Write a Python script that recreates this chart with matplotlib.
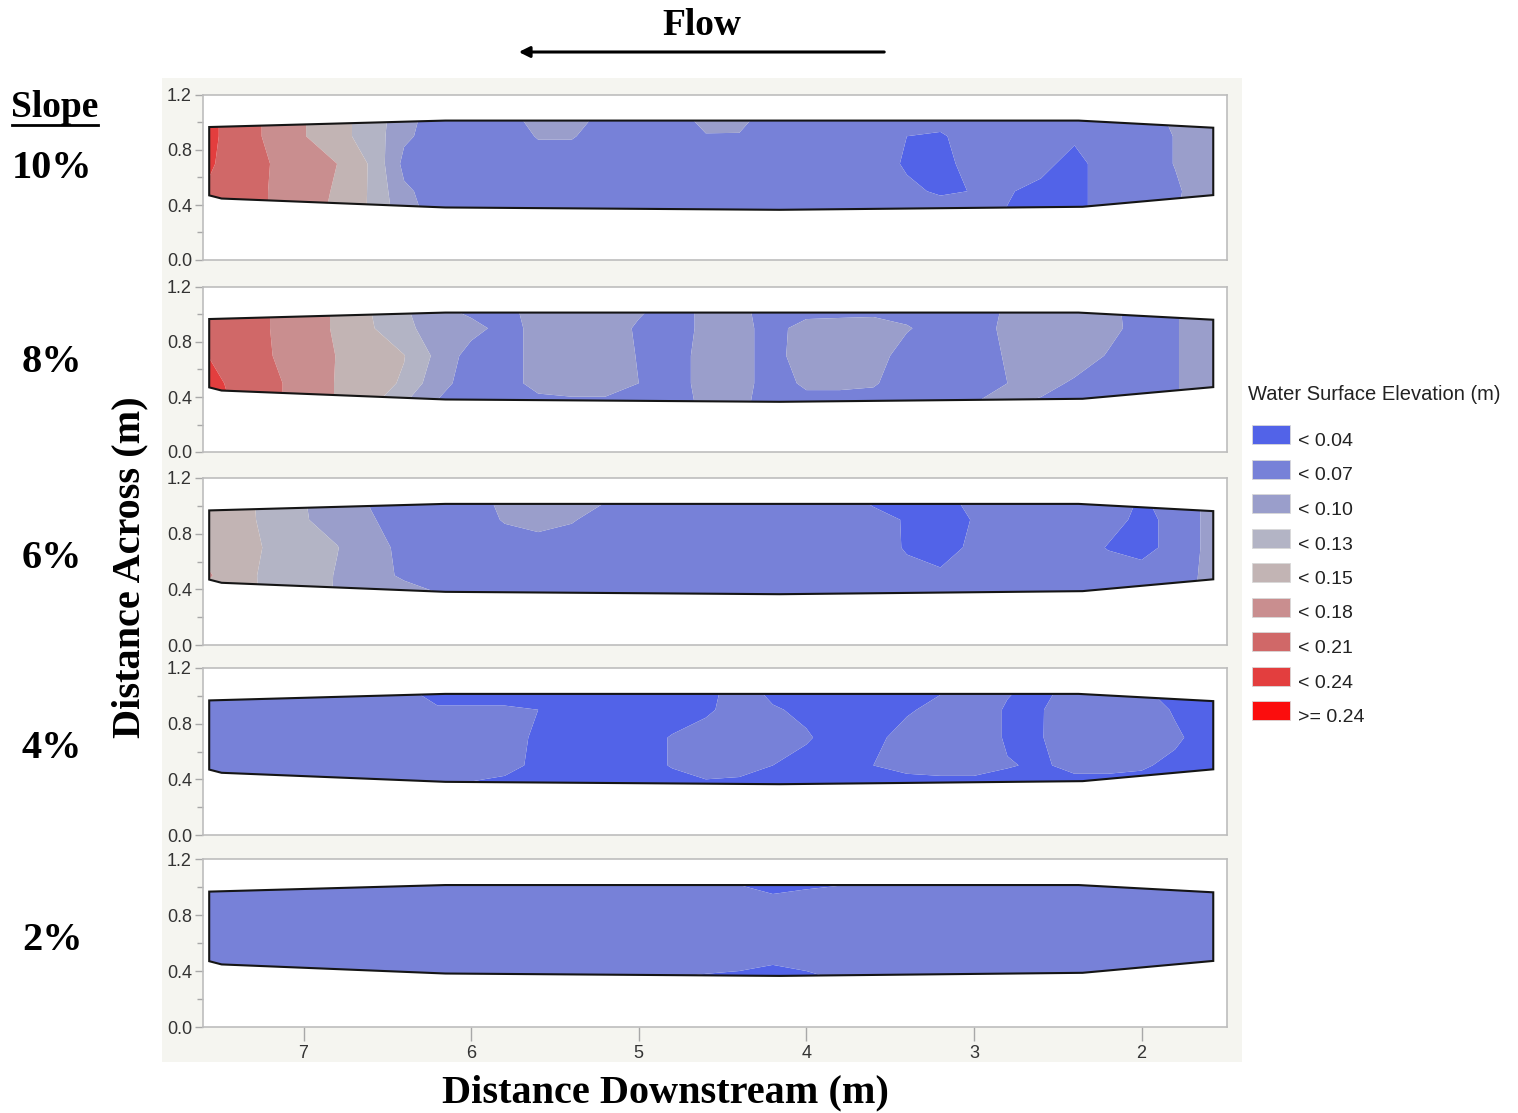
import numpy as np
import matplotlib.pyplot as plt
from matplotlib.patches import Polygon, Rectangle, FancyArrowPatch
from matplotlib.lines import Line2D

# ── Canvas (pixel helpers) ─────────────────────────────────────
W, H = 1518, 1113

def fx(px):
    return px / W

def fy(py):
    return 1 - py / H

# ── Data: water surface elevation (m) on a station grid ───────
x_stations = [7.6, 7.4, 7.2, 7.0, 6.8, 6.6, 6.4, 6.2, 6.0, 5.8, 5.6, 5.4, 5.2, 5.0, 4.8, 4.6,
              4.4, 4.2, 4.0, 3.8, 3.6, 3.4, 3.2, 3.0, 2.8, 2.6, 2.4, 2.2, 2.0, 1.8, 1.6, 1.4]
y_stations = [0.35, 0.5, 0.7, 0.9, 1.05]

wse_10 = [
    [0.205, 0.195, 0.179, 0.160, 0.145, 0.128, 0.082, 0.058, 0.055, 0.055, 0.055, 0.055, 0.055, 0.055, 0.055, 0.055,
     0.055, 0.055, 0.055, 0.055, 0.055, 0.058, 0.055, 0.052, 0.039, 0.030, 0.030, 0.055, 0.056, 0.068, 0.085, 0.090],
    [0.210, 0.196, 0.179, 0.162, 0.147, 0.128, 0.075, 0.058, 0.055, 0.055, 0.055, 0.055, 0.055, 0.055, 0.055, 0.055,
     0.055, 0.055, 0.055, 0.055, 0.055, 0.046, 0.036, 0.041, 0.042, 0.033, 0.030, 0.055, 0.056, 0.066, 0.085, 0.090],
    [0.218, 0.196, 0.180, 0.165, 0.150, 0.128, 0.062, 0.056, 0.055, 0.055, 0.056, 0.056, 0.055, 0.055, 0.055, 0.055,
     0.055, 0.055, 0.055, 0.055, 0.055, 0.036, 0.025, 0.058, 0.055, 0.048, 0.030, 0.055, 0.056, 0.071, 0.085, 0.090],
    [0.226, 0.192, 0.176, 0.151, 0.138, 0.120, 0.075, 0.058, 0.055, 0.055, 0.072, 0.072, 0.058, 0.055, 0.056, 0.068,
     0.068, 0.056, 0.055, 0.055, 0.055, 0.040, 0.036, 0.055, 0.055, 0.050, 0.045, 0.055, 0.056, 0.071, 0.085, 0.090],
    [0.226, 0.192, 0.176, 0.151, 0.138, 0.120, 0.080, 0.058, 0.055, 0.058, 0.085, 0.085, 0.062, 0.055, 0.058, 0.082,
     0.080, 0.058, 0.055, 0.055, 0.055, 0.055, 0.055, 0.055, 0.055, 0.055, 0.055, 0.055, 0.060, 0.075, 0.085, 0.090],
]

wse_8 = [
    [0.232, 0.205, 0.186, 0.170, 0.148, 0.136, 0.101, 0.068, 0.060, 0.060, 0.062, 0.062, 0.062, 0.062, 0.060, 0.075,
     0.075, 0.060, 0.062, 0.062, 0.062, 0.062, 0.066, 0.070, 0.072, 0.065, 0.060, 0.058, 0.060, 0.068, 0.085, 0.090],
    [0.222, 0.203, 0.186, 0.170, 0.148, 0.140, 0.127, 0.078, 0.060, 0.060, 0.078, 0.085, 0.085, 0.070, 0.060, 0.078,
     0.078, 0.060, 0.074, 0.074, 0.072, 0.060, 0.060, 0.062, 0.070, 0.080, 0.066, 0.060, 0.060, 0.068, 0.085, 0.090],
    [0.212, 0.198, 0.181, 0.168, 0.149, 0.141, 0.131, 0.092, 0.058, 0.060, 0.078, 0.090, 0.088, 0.068, 0.060, 0.078,
     0.078, 0.060, 0.085, 0.088, 0.080, 0.060, 0.058, 0.060, 0.072, 0.088, 0.085, 0.068, 0.060, 0.068, 0.085, 0.090],
    [0.205, 0.195, 0.180, 0.165, 0.146, 0.133, 0.108, 0.085, 0.080, 0.060, 0.078, 0.088, 0.085, 0.066, 0.060, 0.075,
     0.078, 0.060, 0.082, 0.085, 0.088, 0.072, 0.060, 0.060, 0.075, 0.088, 0.088, 0.078, 0.060, 0.068, 0.085, 0.090],
    [0.205, 0.195, 0.180, 0.165, 0.146, 0.130, 0.104, 0.075, 0.060, 0.060, 0.085, 0.088, 0.085, 0.075, 0.060, 0.075,
     0.075, 0.060, 0.055, 0.055, 0.055, 0.060, 0.060, 0.062, 0.072, 0.090, 0.085, 0.075, 0.062, 0.068, 0.085, 0.090],
]

wse_6 = [
    [0.145, 0.137, 0.126, 0.112, 0.098, 0.090, 0.082, 0.072, 0.062, 0.058, 0.058, 0.058, 0.058, 0.058, 0.058, 0.058,
     0.058, 0.058, 0.058, 0.058, 0.058, 0.058, 0.058, 0.058, 0.058, 0.058, 0.038, 0.058, 0.058, 0.058, 0.077, 0.085],
    [0.155, 0.138, 0.125, 0.115, 0.098, 0.080, 0.066, 0.060, 0.058, 0.058, 0.058, 0.058, 0.058, 0.058, 0.058, 0.058,
     0.058, 0.058, 0.058, 0.058, 0.056, 0.046, 0.044, 0.055, 0.058, 0.058, 0.055, 0.058, 0.050, 0.055, 0.077, 0.085],
    [0.145, 0.140, 0.127, 0.115, 0.101, 0.082, 0.062, 0.058, 0.058, 0.058, 0.060, 0.058, 0.058, 0.058, 0.058, 0.058,
     0.058, 0.058, 0.058, 0.058, 0.050, 0.038, 0.030, 0.045, 0.056, 0.058, 0.058, 0.038, 0.032, 0.048, 0.077, 0.085],
    [0.147, 0.137, 0.125, 0.102, 0.090, 0.072, 0.060, 0.058, 0.058, 0.072, 0.078, 0.072, 0.060, 0.058, 0.058, 0.058,
     0.058, 0.058, 0.058, 0.055, 0.048, 0.038, 0.032, 0.041, 0.050, 0.058, 0.058, 0.052, 0.032, 0.048, 0.077, 0.085],
    [0.148, 0.136, 0.125, 0.101, 0.088, 0.068, 0.060, 0.058, 0.058, 0.078, 0.080, 0.078, 0.072, 0.071, 0.065, 0.058,
     0.074, 0.058, 0.055, 0.048, 0.035, 0.032, 0.035, 0.045, 0.055, 0.058, 0.058, 0.052, 0.038, 0.048, 0.077, 0.085],
]

wse_4 = [
    [0.052, 0.052, 0.052, 0.052, 0.052, 0.052, 0.052, 0.045, 0.037, 0.033, 0.030, 0.030, 0.030, 0.032, 0.034, 0.036,
     0.036, 0.034, 0.032, 0.032, 0.033, 0.034, 0.034, 0.034, 0.034, 0.034, 0.034, 0.034, 0.034, 0.032, 0.030, 0.030],
    [0.052, 0.052, 0.052, 0.052, 0.052, 0.052, 0.052, 0.052, 0.050, 0.047, 0.035, 0.030, 0.030, 0.034, 0.041, 0.048,
     0.045, 0.040, 0.034, 0.034, 0.040, 0.044, 0.046, 0.046, 0.041, 0.038, 0.044, 0.044, 0.042, 0.036, 0.032, 0.030],
    [0.052, 0.052, 0.052, 0.052, 0.052, 0.052, 0.052, 0.052, 0.052, 0.052, 0.035, 0.030, 0.030, 0.034, 0.041, 0.050,
     0.052, 0.050, 0.042, 0.032, 0.036, 0.046, 0.050, 0.050, 0.038, 0.039, 0.052, 0.052, 0.050, 0.043, 0.032, 0.030],
    [0.052, 0.052, 0.052, 0.052, 0.052, 0.052, 0.048, 0.042, 0.042, 0.042, 0.040, 0.032, 0.030, 0.030, 0.033, 0.036,
     0.050, 0.042, 0.036, 0.032, 0.032, 0.038, 0.045, 0.050, 0.038, 0.039, 0.050, 0.052, 0.050, 0.038, 0.032, 0.030],
    [0.052, 0.052, 0.052, 0.052, 0.052, 0.052, 0.042, 0.032, 0.032, 0.032, 0.032, 0.032, 0.030, 0.030, 0.032, 0.034,
     0.048, 0.034, 0.032, 0.032, 0.032, 0.034, 0.038, 0.046, 0.042, 0.035, 0.046, 0.046, 0.042, 0.032, 0.030, 0.030],
]

wse_2 = [
    [0.056, 0.056, 0.056, 0.056, 0.056, 0.056, 0.056, 0.056, 0.056, 0.056, 0.056, 0.056, 0.056, 0.046, 0.040, 0.036,
     0.035, 0.030, 0.035, 0.042, 0.056, 0.056, 0.056, 0.056, 0.056, 0.056, 0.056, 0.056, 0.056, 0.056, 0.056, 0.056],
    [0.056, 0.056, 0.056, 0.056, 0.056, 0.056, 0.056, 0.056, 0.056, 0.056, 0.056, 0.056, 0.056, 0.056, 0.056, 0.056,
     0.050, 0.046, 0.050, 0.056, 0.056, 0.056, 0.056, 0.056, 0.056, 0.056, 0.056, 0.056, 0.056, 0.056, 0.056, 0.056],
    [0.056, 0.056, 0.056, 0.056, 0.056, 0.056, 0.056, 0.056, 0.056, 0.056, 0.056, 0.056, 0.056, 0.056, 0.056, 0.056,
     0.056, 0.056, 0.056, 0.056, 0.056, 0.056, 0.056, 0.056, 0.056, 0.056, 0.056, 0.056, 0.056, 0.056, 0.056, 0.056],
    [0.056, 0.056, 0.056, 0.056, 0.056, 0.056, 0.056, 0.056, 0.056, 0.056, 0.056, 0.056, 0.056, 0.056, 0.056, 0.056,
     0.056, 0.045, 0.050, 0.056, 0.056, 0.056, 0.052, 0.056, 0.056, 0.056, 0.056, 0.056, 0.056, 0.056, 0.056, 0.056],
    [0.056, 0.056, 0.056, 0.056, 0.056, 0.056, 0.056, 0.056, 0.056, 0.056, 0.056, 0.056, 0.056, 0.056, 0.056, 0.056,
     0.035, 0.030, 0.032, 0.034, 0.034, 0.040, 0.036, 0.045, 0.056, 0.056, 0.056, 0.056, 0.056, 0.056, 0.056, 0.056],
]

slope_labels = ['10%', '8%', '6%', '4%', '2%']
slope_grids = [wse_10, wse_8, wse_6, wse_4, wse_2]

# channel outline (m)
channel_x = [7.563, 6.154, 2.376, 1.572, 1.572, 2.352, 4.16, 6.154, 7.489, 7.563]
channel_y = [0.967, 1.014, 1.014, 0.962, 0.472, 0.387, 0.365, 0.382, 0.447, 0.470]

levels = [-1.0, 0.04, 0.07, 0.10, 0.13, 0.15, 0.18, 0.21, 0.24, 1.0]
legend_labels = ['< 0.04', '< 0.07', '< 0.10', '< 0.13', '< 0.15',
                 '< 0.18', '< 0.21', '< 0.24', '>= 0.24']
band_colors = ['#5263e8', '#7781d8', '#9a9ecb', '#b3b4c5', '#c2b4b4',
               '#c98e8f', '#d06868', '#e33e3e', '#fb0d0d']

x_ticks = [7, 6, 5, 4, 3, 2]
y_ticks = [0.0, 0.4, 0.8, 1.2]
y_minor = [0.2, 0.6, 1.0]

# ── Layout (pixels) ────────────────────────────────────────────
panel_px = [(95, 260), (287, 452), (478, 645), (668, 835), (859, 1027)]
label_py = [169, 363, 558, 748, 940]
SERIF = 'Liberation Serif'
SANS = 'Liberation Sans'

fig = plt.figure(figsize=(W / 100, H / 100), dpi=100)
fig.patch.set_facecolor('white')

# grey backdrop behind the panels
fig.add_artist(Rectangle((fx(162), fy(1062)), fx(1242) - fx(162), fy(78) - fy(1062),
                         transform=fig.transFigure, facecolor='#f5f5f0',
                         edgecolor='none', zorder=0))

for i, (grid, (top, bot)) in enumerate(zip(slope_grids, panel_px)):
    ax = fig.add_axes([fx(203), fy(bot), fx(1227) - fx(203), (bot - top) / H])
    ax.set_facecolor('white')

    cs = ax.contourf(x_stations, y_stations, np.array(grid), levels=levels,
                     colors=band_colors, antialiased=True)
    chan = Polygon(np.column_stack([channel_x, channel_y]), closed=True,
                   facecolor='none', edgecolor='#151515', lw=1.5, zorder=4)
    ax.add_patch(chan)
    cs.set_clip_path(chan)

    ax.set_xlim(7.60, 1.49)
    ax.set_ylim(0, 1.2)
    ax.set_yticks(y_ticks)
    ax.set_yticklabels([f'{v:.1f}' for v in y_ticks])
    ax.set_yticks(y_minor, minor=True)
    ax.tick_params(axis='y', which='major', direction='out', length=6, width=1,
                   color='#a8a8a8', labelcolor='#333333', labelsize=13, pad=2)
    ax.tick_params(axis='y', which='minor', direction='out', length=4, width=1,
                   color='#a8a8a8')
    for lab in ax.get_yticklabels():
        lab.set_fontfamily(SANS)
    for s in ax.spines.values():
        s.set_color('#bdbdbd')
        s.set_linewidth(1.2)

    if i == len(slope_grids) - 1:
        ax.set_xticks(x_ticks)
        ax.set_xticklabels([str(v) for v in x_ticks])
        ax.tick_params(axis='x', direction='out', length=10, width=1,
                       color='#a8a8a8', labelcolor='#333333', labelsize=13, pad=3)
        for lab in ax.get_xticklabels():
            lab.set_fontfamily(SANS)
    else:
        ax.set_xticks([])

    fig.text(fx(52), fy(label_py[i]), slope_labels[i], fontsize=29, fontweight='bold',
             family=SERIF, ha='center', va='center')

# ── Titles and labels ──────────────────────────────────────────
fig.text(fx(55), fy(117), 'Slope', fontsize=27, fontweight='bold', family=SERIF,
         ha='center', va='baseline')
fig.add_artist(Line2D([fx(12), fx(98)], [fy(125), fy(125)], transform=fig.transFigure,
                      color='black', lw=2))

fig.text(fx(702), fy(35), 'Flow', fontsize=27, fontweight='bold', family=SERIF,
         ha='center', va='baseline')
fig.add_artist(FancyArrowPatch((fx(887), fy(52)), (fx(516), fy(52)),
                               transform=fig.transFigure, arrowstyle='-|>',
                               mutation_scale=16, lw=2.2, color='black'))

fig.text(fx(665), fy(1093), 'Distance Downstream (m)', fontsize=29, fontweight='bold',
         family=SERIF, ha='center', va='center')
fig.text(fx(130), fy(567), 'Distance Across (m)', fontsize=29, fontweight='bold',
         family=SERIF, ha='center', va='center', rotation=90)

# ── Legend ─────────────────────────────────────────────────────
fig.text(fx(1248), fy(400), 'Water Surface Elevation (m)', fontsize=14.5, family=SANS,
         color='#222222', ha='left', va='baseline')
for k, (c, lab) in enumerate(zip(band_colors, legend_labels)):
    cy = 434.5 + k * 34.5
    fig.add_artist(Rectangle((fx(1252), fy(cy + 9.5)), 38 / W, 19 / H,
                             transform=fig.transFigure, facecolor=c,
                             edgecolor='#d8d8d8', lw=0.6))
    fig.text(fx(1298), fy(cy + 11.5), lab, fontsize=14, family=SANS,
             color='#222222', ha='left', va='baseline')

fig.savefig('out.png', dpi=100)
